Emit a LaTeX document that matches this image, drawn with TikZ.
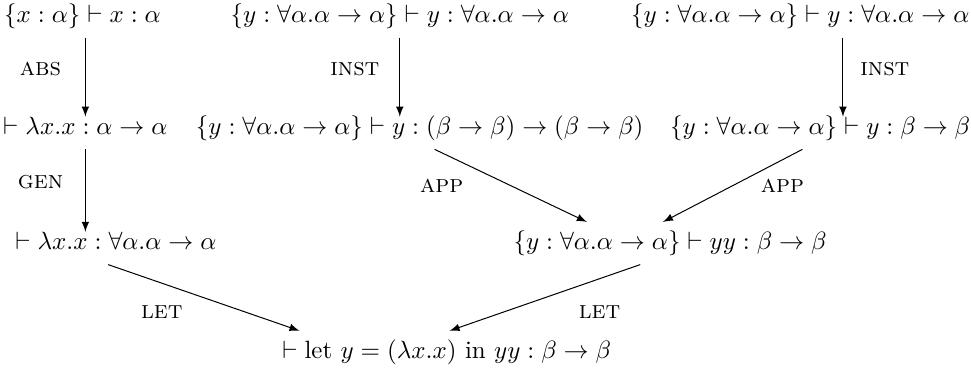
\documentclass[tikz,border=0pt]{standalone}
\usepackage{amsmath}
\begin{document}
\begin{tikzpicture}[>=latex, judg/.style={text height=7.5pt, text depth=2.5pt}, rulename/.style={font=\scshape}]
\useasboundingbox (0,0) rectangle (13.65,5.26);
\node[judg] (ax) at (1.16,5.03) {$\{x:\alpha\}\vdash x:\alpha$};
\node[judg] (yall) at (5.62,5.03) {$\{y:\forall\alpha.\alpha\to\alpha\}\vdash y:\forall\alpha.\alpha\to\alpha$};
\node[judg] (yallb) at (11.25,5.03) {$\{y:\forall\alpha.\alpha\to\alpha\}\vdash y:\forall\alpha.\alpha\to\alpha$};
\node[judg] (lam) at (1.20,3.46) {$\vdash\lambda x.x:\alpha\to\alpha$};
\node[judg] (yfun) at (5.90,3.46) {$\{y:\forall\alpha.\alpha\to\alpha\}\vdash y:(\beta\to\beta)\to(\beta\to\beta)$};
\node[judg] (ybeta) at (11.53,3.46) {$\{y:\forall\alpha.\alpha\to\alpha\}\vdash y:\beta\to\beta$};
\node[judg] (lamgen) at (1.63,1.84) {$\vdash\lambda x.x:\forall\alpha.\alpha\to\alpha$};
\node[judg] (yy) at (9.42,1.84) {$\{y:\forall\alpha.\alpha\to\alpha\}\vdash yy:\beta\to\beta$};
\node[judg] (let) at (6.28,0.31) {$\vdash\text{let }y=(\lambda x.x)\text{ in }yy:\beta\to\beta$};
\coordinate (instr) at ([xshift=0.60cm]yallb.south);
\draw[->, shorten >=-4pt] (ax.south -| lam.north) -- (lam.north) node[rulename, pos=0.45, xshift=-0.63cm] {abs};
\draw[->, shorten >=-4pt] (yall.south) -- (yall.south |- yfun.north) node[rulename, pos=0.45, xshift=-0.63cm] {inst};
\draw[->, shorten >=-4pt] (instr) -- (instr |- ybeta.north) node[rulename, pos=0.45, xshift=0.59cm] {inst};
\draw[->, shorten >=-4pt] (lam.south) -- (lam.south |- lamgen.north) node[rulename, pos=0.45, xshift=-0.63cm] {gen};
\draw[->] ([xshift=0.21cm]yfun.south) -- ([xshift=-1.17cm]yy.north) node[rulename, midway, xshift=-0.97cm] {app};
\draw[->] ([xshift=-0.25cm]ybeta.south) -- ([xshift=-0.10cm]yy.north) node[rulename, midway, xshift=0.70cm] {app};
\draw[->] ([xshift=-0.11cm]lamgen.south) -- ([xshift=-2.07cm]let.north) node[rulename, midway, xshift=-0.59cm, yshift=-0.20cm] {let};
\draw[->] ([xshift=-0.42cm]yy.south) -- ([xshift=0.04cm]let.north) node[rulename, midway, xshift=0.77cm, yshift=-0.20cm] {let};
\end{tikzpicture}
\end{document}
